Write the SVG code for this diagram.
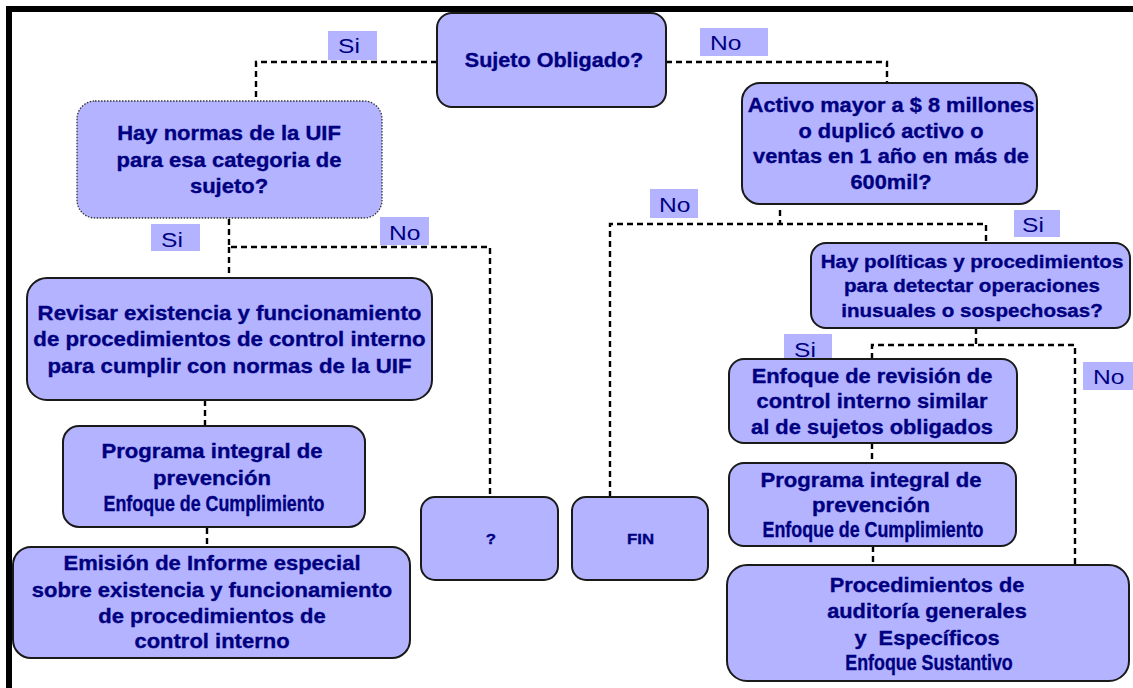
<svg xmlns="http://www.w3.org/2000/svg" width="1133" height="688" viewBox="0 0 1133 688">
<style>
.frame{stroke:#000;stroke-width:6;fill:none}
.box{fill:#b3b3ff;stroke:#1a1a1a;stroke-width:2}
.dot{fill:#b3b3ff;stroke:#333;stroke-width:1.3;stroke-dasharray:1.5 1.5}
.con{fill:none;stroke:#000;stroke-width:2.4;stroke-dasharray:6 4}
.lb{fill:#b3b3ff}
.t{font-family:"Liberation Sans",Arial,sans-serif;font-weight:bold;fill:#000080;stroke:#000080;stroke-width:0.35;text-anchor:middle}
.l{font-family:"Liberation Sans",Arial,sans-serif;font-size:20.5px;fill:#000080}
</style>
<rect width="1133" height="688" fill="#fff"/>
<g id="frame">
<line class="frame" x1="6" y1="9" x2="1133" y2="9"/>
<line class="frame" x1="9" y1="6" x2="9" y2="688"/>
</g>
<g id="connectors">
<path class="con" d="M437,62 H256 V101"/>
<path class="con" d="M666,62 H887 V83"/>
<path class="con" d="M229,219 V247 H490 V497"/>
<path class="con" d="M229,247 V278"/>
<path class="con" d="M205,400 V426"/>
<path class="con" d="M207,528 V548"/>
<path class="con" d="M780,210 V224"/>
<path class="con" d="M610,497 V224 H986 V243"/>
<path class="con" d="M976,328 V345"/>
<path class="con" d="M872,359 V345 H1075 V565"/>
<path class="con" d="M872,443 V463"/>
<path class="con" d="M873,546 V565"/>
</g>
<g id="labels">
<rect class="lb" x="328" y="31" width="49" height="29"/><text class="l" transform="matrix(1.2 0 0 1 338 0)" x="0" y="53">Si</text>
<rect class="lb" x="700" y="28" width="68" height="28"/><text class="l" transform="matrix(1.2 0 0 1 710 0)" x="0" y="50">No</text>
<rect class="lb" x="151" y="224" width="49" height="27"/><text class="l" transform="matrix(1.2 0 0 1 161 0)" x="0" y="247">Si</text>
<rect class="lb" x="380" y="217" width="49" height="28"/><text class="l" transform="matrix(1.2 0 0 1 389 0)" x="0" y="240">No</text>
<rect class="lb" x="650" y="189" width="48" height="29"/><text class="l" transform="matrix(1.2 0 0 1 659 0)" x="0" y="212">No</text>
<rect class="lb" x="1014" y="210" width="46" height="27"/><text class="l" transform="matrix(1.2 0 0 1 1022 0)" x="0" y="232">Si</text>
<rect class="lb" x="784" y="334" width="48" height="28"/><text class="l" transform="matrix(1.2 0 0 1 794 0)" x="0" y="357">Si</text>
<rect class="lb" x="1083" y="362" width="50" height="28"/><text class="l" transform="matrix(1.2 0 0 1 1093 0)" x="0" y="384">No</text>
</g>
<g id="n-sujeto">
<rect class="box" x="437" y="13" width="229" height="94" rx="15"/>
<text class="t" font-size="19.6" transform="matrix(1.1 0 0 1 554 0)"><tspan x="0" y="67">Sujeto Obligado?</tspan></text>
</g>
<g id="n-normas">
<rect class="dot" x="77" y="101" width="305" height="117" rx="18"/>
<text class="t" font-size="20" transform="matrix(1.1 0 0 1 229 0)"><tspan x="0" y="140">Hay normas de la UIF</tspan><tspan x="0" y="167">para esa categoria de</tspan><tspan x="0" y="193">sujeto?</tspan></text>
</g>
<g id="n-activo">
<rect class="box" x="742" y="83" width="295" height="121" rx="18"/>
<text class="t" font-size="19.8" transform="matrix(1.1 0 0 1 891 0)"><tspan x="0" y="112">Activo mayor a $ 8 millones</tspan><tspan x="0" y="138">o duplicó activo o</tspan><tspan x="0" y="163">ventas en 1 año en más de</tspan><tspan x="0" y="189">600mil?</tspan></text>
</g>
<g id="n-politicas">
<rect class="box" x="811" y="243" width="319" height="85" rx="15"/>
<text class="t" font-size="18.7" transform="matrix(1.1 0 0 1 972 0)"><tspan x="0" y="268">Hay políticas y procedimientos</tspan><tspan x="0" y="292">para detectar operaciones</tspan><tspan x="0" y="317">inusuales o sospechosas?</tspan></text>
</g>
<g id="n-revisar">
<rect class="box" x="27" y="278" width="405" height="122" rx="20"/>
<text class="t" font-size="20.2" transform="matrix(1.1 0 0 1 229.5 0)"><tspan x="0" y="320">Revisar existencia y funcionamiento</tspan><tspan x="0" y="346">de procedimientos de control interno</tspan><tspan x="0" y="373">para cumplir con normas de la UIF</tspan></text>
</g>
<g id="n-programa-izq">
<rect class="box" x="63" y="426" width="302" height="101" rx="16"/>
<text class="t" font-size="20.1" transform="matrix(1.1 0 0 1 212 0)"><tspan x="0" y="458">Programa integral de</tspan><tspan x="0" y="485">prevención</tspan></text>
<text class="t" font-size="21.5" transform="matrix(0.83 0 0 1 214 0)"><tspan x="0" y="511">Enfoque de Cumplimiento</tspan></text>
</g>
<g id="n-emision">
<rect class="box" x="13" y="547" width="397" height="111" rx="18"/>
<text class="t" font-size="20" transform="matrix(1.1 0 0 1 212 0)"><tspan x="0" y="570">Emisión de Informe especial</tspan><tspan x="0" y="597">sobre existencia y funcionamiento</tspan><tspan x="0" y="623">de procedimientos de</tspan><tspan x="0" y="648">control interno</tspan></text>
</g>
<g id="n-pregunta">
<rect class="box" x="421" y="497" width="137" height="83" rx="14"/>
<text class="t" font-size="15" transform="matrix(1.12 0 0 1 491 0)"><tspan x="0" y="544">?</tspan></text>
</g>
<g id="n-fin">
<rect class="box" x="572" y="497" width="136" height="83" rx="14"/>
<text class="t" font-size="15" transform="matrix(1.12 0 0 1 640.5 0)"><tspan x="0" y="544">FIN</tspan></text>
</g>
<g id="n-enfoque-revision">
<rect class="box" x="729" y="359" width="288" height="84" rx="15"/>
<text class="t" font-size="19.9" transform="matrix(1.1 0 0 1 872 0)"><tspan x="0" y="383">Enfoque de revisión de</tspan><tspan x="0" y="408">control interno similar</tspan><tspan x="0" y="434">al de sujetos obligados</tspan></text>
</g>
<g id="n-programa-der">
<rect class="box" x="729" y="463" width="287" height="83" rx="15"/>
<text class="t" font-size="20.1" transform="matrix(1.1 0 0 1 871 0)"><tspan x="0" y="487">Programa integral de</tspan><tspan x="0" y="512">prevención</tspan></text>
<text class="t" font-size="21.5" transform="matrix(0.83 0 0 1 873 0)"><tspan x="0" y="537">Enfoque de Cumplimiento</tspan></text>
</g>
<g id="n-procedimientos">
<rect class="box" x="727" y="565" width="402" height="116" rx="20"/>
<text class="t" font-size="19.8" transform="matrix(1.1 0 0 1 927 0)"><tspan x="0" y="592">Procedimientos de</tspan><tspan x="0" y="618">auditoría generales</tspan><tspan x="0" y="645" style="white-space:pre">y  Específicos</tspan></text>
<text class="t" font-size="21.5" transform="matrix(0.83 0 0 1 929 0)"><tspan x="0" y="670">Enfoque Sustantivo</tspan></text>
</g>
</svg>
